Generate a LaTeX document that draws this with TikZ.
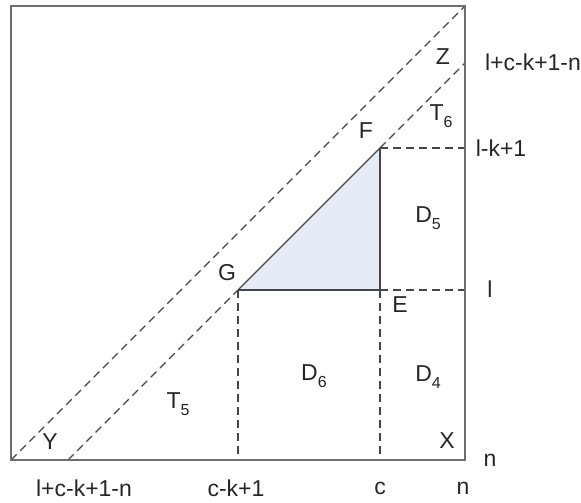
\documentclass[tikz,border=0pt]{standalone}
\usepackage{fontspec}
\setmainfont{Liberation Sans}
\usetikzlibrary{positioning}
\definecolor{framegray}{HTML}{6E6E6E}
\definecolor{linegray}{HTML}{454545}
\definecolor{paleblue}{HTML}{E5ECF6}
\newcommand{\lowidx}[1]{\raisebox{-0.28em}{\fontsize{16}{16}\selectfont #1}}
\tikzstyle{frame} = [
    draw=framegray,
    line width=1.6pt
]
\tikzstyle{guide} = [
    draw=linegray,
    line width=1.2pt,
    dash pattern=on 8pt off 5pt
]
\tikzstyle{edge} = [
    draw=linegray,
    line width=1.1pt
]
\tikzstyle{lbl} = [
    inner sep=0pt,
    text=black!85,
    font=\fontsize{23}{27}\selectfont
]

\begin{document}
\begin{tikzpicture}[x=1pt, y=-1pt]
        \useasboundingbox (0,0) rectangle (581,503);

        % Corner points
        \coordinate (bl) at (11,460);
        \coordinate (br) at (465,460);
        \coordinate (tr) at (465,6);
        \coordinate (tl) at (11,6);
        \coordinate (low) at (68,460);
        \coordinate (high) at (465,63);
        \coordinate (G) at (238,290);
        \coordinate (E) at (380,290);
        \coordinate (F) at (380,148);
        \coordinate (gfoot) at (238,460);
        \coordinate (efoot) at (380,460);
        \coordinate (eside) at (465,290);
        \coordinate (fside) at (465,148);

        % Shaded triangle
        \fill[paleblue] (G) -- (E) -- (F) -- cycle;
        \draw[edge] (G) -- (E) -- (F);

        % Diagonals
        \draw[guide] (bl) -- (tr);
        \draw[guide] (low) -- (G);
        \draw[edge] (G) -- (F);
        \draw[guide] (F) -- (high);

        % Dashed grid lines
        \draw[guide] (G) -- (gfoot);
        \draw[guide] (E) -- (efoot);
        \draw[guide] (E) -- (eside);
        \draw[guide] (F) -- (fside);

        % Outer square
        \draw[frame] (tl) rectangle (br);

        % Point labels
        \node[lbl] (labF) at (366,131) {F};
        \node[lbl] (labG) at (227,273) {G};
        \node[lbl] (labE) at (400,305) {E};
        \node[lbl] (labZ) at (443,57) {Z};
        \node[lbl] (labX) at (447,441) {X};
        \node[lbl] (labY) at (50,442) {Y};

        % Region labels
        \node[lbl] (labT6) at (441,116) {T\lowidx{6}};
        \node[lbl] (labD5) at (428,218) {D\lowidx{5}};
        \node[lbl] (labD4) at (428,377) {D\lowidx{4}};
        \node[lbl] (labD6) at (314,376) {D\lowidx{6}};
        \node[lbl] (labT5) at (178,404) {T\lowidx{5}};

        % Axis labels
        \node[lbl] (xa) at (84,488) {l+c-k+1-n};
        \node[lbl] (xb) at (236,488) {c-k+1};
        \node[lbl] (xc) at (380,488) {c};
        \node[lbl] (xd) at (463,488) {n};
        \node[lbl] (ya) at (533,62) {l+c-k+1-n};
        \node[lbl] (yb) at (501,148) {l-k+1};
        \node[lbl] (yc) at (490,289) {l};
        \node[lbl] (yd) at (490,460) {n};
    \end{tikzpicture}
\end{document}
